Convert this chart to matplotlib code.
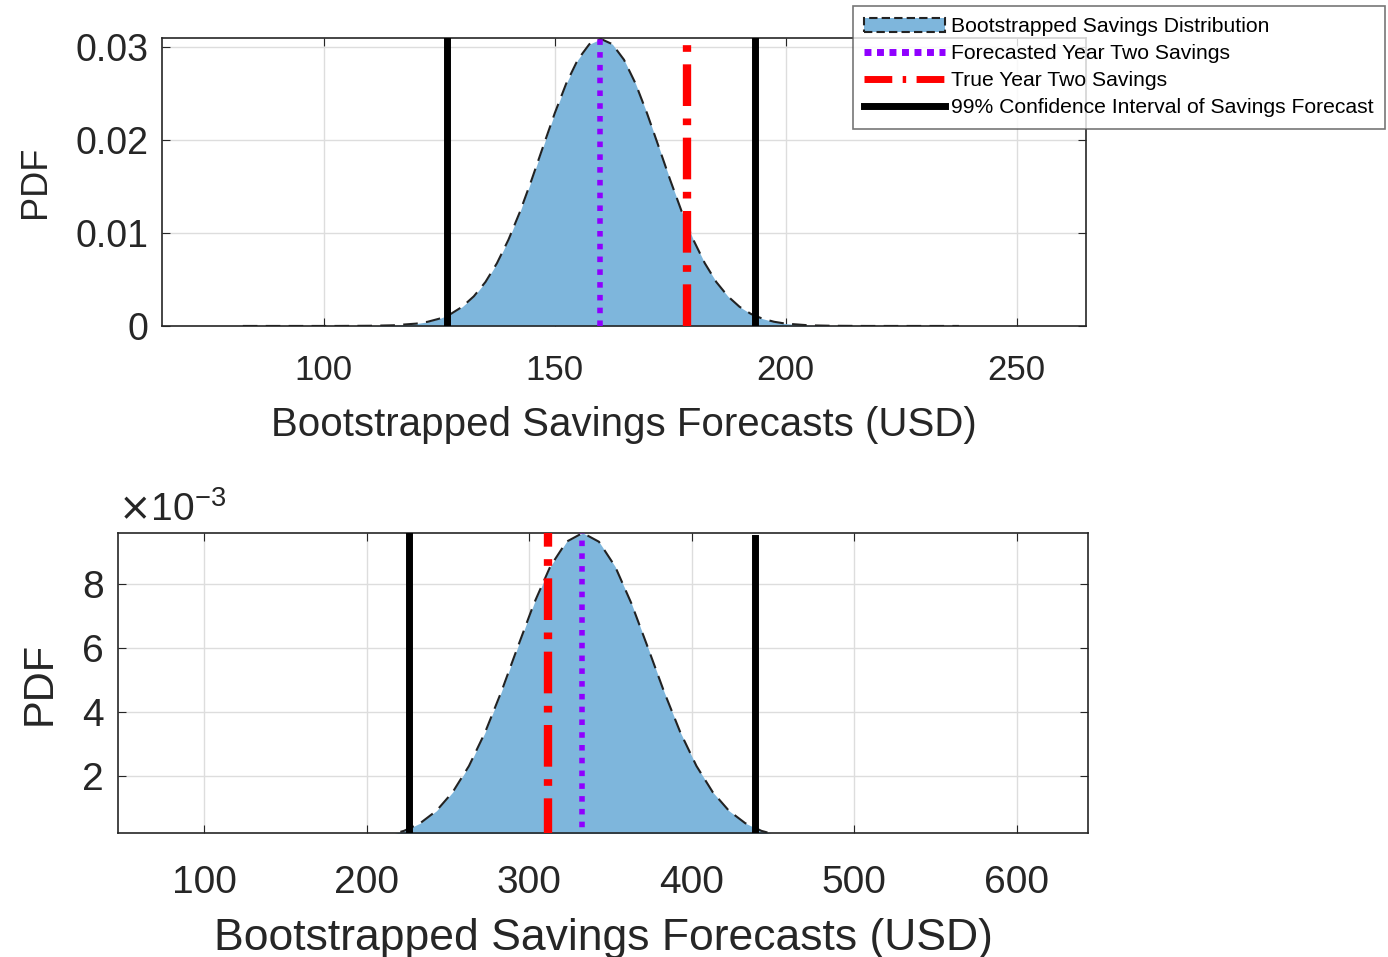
import matplotlib
matplotlib.use('Agg')
import matplotlib.pyplot as plt
import matplotlib.patches as mpatches
import matplotlib.lines as mlines

plt.rcParams['font.family'] = ['Liberation Sans', 'DejaVu Sans']

# year one panel: bootstrapped savings pdf
x1 = [82.5, 92.5, 102.5, 110, 115, 120, 122.5, 125, 127.5, 130, 132.5, 135, 137.5,
      140, 142.5, 145, 147.5, 150, 152.5, 155, 157.5, 160, 162.5, 165, 167.5, 170,
      172.5, 175, 177.5, 180, 182.5, 185, 187.5, 190, 192.5, 195, 197.5, 200, 205,
      210, 217.5, 227.5, 237.5]
pdf1 = [0, 0, 0, 0.00002, 0.00007, 0.00025, 0.00045, 0.00078, 0.00129, 0.00207,
        0.00319, 0.00472, 0.00675, 0.00929, 0.01231, 0.01572, 0.01932, 0.02288,
        0.02610, 0.02866, 0.03033, 0.03090, 0.03033, 0.02866, 0.02610, 0.02288,
        0.01932, 0.01572, 0.01231, 0.00929, 0.00675, 0.00472, 0.00319, 0.00207,
        0.00129, 0.00078, 0.00045, 0.00025, 0.00007, 0.00002, 0, 0, 0]
forecast1 = 159.8
true1 = 178.6
ci1 = [126.6, 193.3]

# year two panel
x2 = [193, 203, 213, 223, 233, 243, 253, 263, 273, 283, 293, 303, 313, 323, 333,
      343, 353, 363, 373, 383, 393, 403, 413, 423, 433, 443, 453, 463, 473]
pdf2 = [0.000032, 0.000071, 0.000147, 0.000286, 0.000527, 0.000914, 0.001498,
        0.002315, 0.003375, 0.004646, 0.006033, 0.007393, 0.008547, 0.009325,
        0.00960, 0.009325, 0.008547, 0.007393, 0.006033, 0.004646, 0.003375,
        0.002315, 0.001498, 0.000914, 0.000527, 0.000286, 0.000147, 0.000071,
        0.000032]
forecast2 = 332.8
true2 = 311.8
ci2 = [226.2, 439.3]

fill_col = '#7EB6DC'
purple = '#8F00FF'
red = '#FF0000'
dist_label = 'Bootstrapped Savings Distribution'
fc_label = 'Forecasted Year Two Savings'
true_label = 'True Year Two Savings'
ci_label = '99% Confidence Interval of Savings Forecast'

fig = plt.figure(figsize=(13.88, 9.57), dpi=100)
ax1 = fig.add_axes([0.1167, 0.6594, 0.6657, 0.3009])
ax2 = fig.add_axes([0.0850, 0.1296, 0.6989, 0.3135])


def draw_panel(ax, xs, ys, fc, tr, ci, ytop, ci_tops):
    ax.fill_between(xs, 0, ys, color=fill_col, linewidth=0, zorder=2)
    ax.plot(xs, ys, color='#222222', linestyle=(0, (7, 4)), linewidth=1.5, zorder=3)
    peak = max(ys)
    ax.plot([fc, fc], [0, peak], color=purple, linestyle=(0, (1, 1.3)),
            linewidth=4, zorder=4)
    ax.plot([tr, tr], [0, ytop], color=red, linestyle=(0, (5, 1.5, 0.8, 1.5)),
            linewidth=6, zorder=4)
    for c, t in zip(ci, ci_tops):
        ax.plot([c, c], [0, t], color='black', linewidth=5, zorder=5)
    ax.grid(True, color='#DDDDDD', linewidth=1)
    ax.set_axisbelow(True)
    for s in ax.spines.values():
        s.set_color('#262626')
        s.set_linewidth(1.2)
    ax.tick_params(direction='in', length=6, colors='#262626', labelcolor='#262626',
                   top=True, right=True)


draw_panel(ax1, x1, pdf1, forecast1, true1, ci1, 0.031, [0.031, 0.031])
ax1.set_xlim(65, 265)
ax1.set_ylim(0, 0.031)
ax1.set_xticks([100, 150, 200, 250])
ax1.set_yticks([0, 0.01, 0.02, 0.03])
ax1.set_yticklabels(['0', '0.01', '0.02', '0.03'])
ax1.tick_params(axis='x', labelsize=25, pad=20)
ax1.tick_params(axis='y', labelsize=27, pad=10)
ax1.set_xlabel('Bootstrapped Savings Forecasts (USD)', fontsize=29, color='#262626',
               labelpad=14)
ax1.set_ylabel('PDF', fontsize=26, color='#262626', labelpad=16)

draw_panel(ax2, x2, pdf2, forecast2, true2, ci2, 0.0096, [0.0096, 0.00944])
ax2.set_xlim(47, 644)
ax2.set_ylim(0.00022, 0.0096)
ax2.set_xticks([100, 200, 300, 400, 500, 600])
ax2.set_yticks([0.002, 0.004, 0.006, 0.008])
ax2.set_yticklabels(['2', '4', '6', '8'])
ax2.tick_params(axis='x', labelsize=28, pad=23)
ax2.tick_params(axis='y', labelsize=28, pad=10)
ax2.set_xlabel('Bootstrapped Savings Forecasts (USD)', fontsize=32, color='#262626',
               labelpad=12)
ax2.set_ylabel('PDF', fontsize=30, color='#262626', labelpad=16)
ax2.text(0.0, 1.015, r'$\times$10$^{\mathregular{-3}}$', transform=ax2.transAxes,
         fontsize=28, color='#262626', ha='left', va='bottom')

handles = [
    mpatches.Patch(facecolor=fill_col, edgecolor='#222222', linestyle=(0, (4, 2)),
                   linewidth=1.5, label=dist_label),
    mlines.Line2D([], [], color=purple, linestyle=(0, (1, 0.8)), linewidth=5,
                  label=fc_label),
    mlines.Line2D([], [], color=red, linestyle=(0, (4, 1.5, 0.5, 1.5)), linewidth=5,
                  label=true_label),
    mlines.Line2D([], [], color='black', linewidth=5, label=ci_label),
]
leg = fig.legend(handles=handles, loc='upper right', bbox_to_anchor=(0.998, 0.994),
                 fontsize=15.2, frameon=True, fancybox=False, handlelength=3.8,
                 handletextpad=0.3, borderpad=0.55, labelspacing=0.38,
                 borderaxespad=0)
leg.get_frame().set_edgecolor('#555555')
leg.get_frame().set_linewidth(1.2)

fig.savefig('out.png', dpi=100, facecolor='white')
